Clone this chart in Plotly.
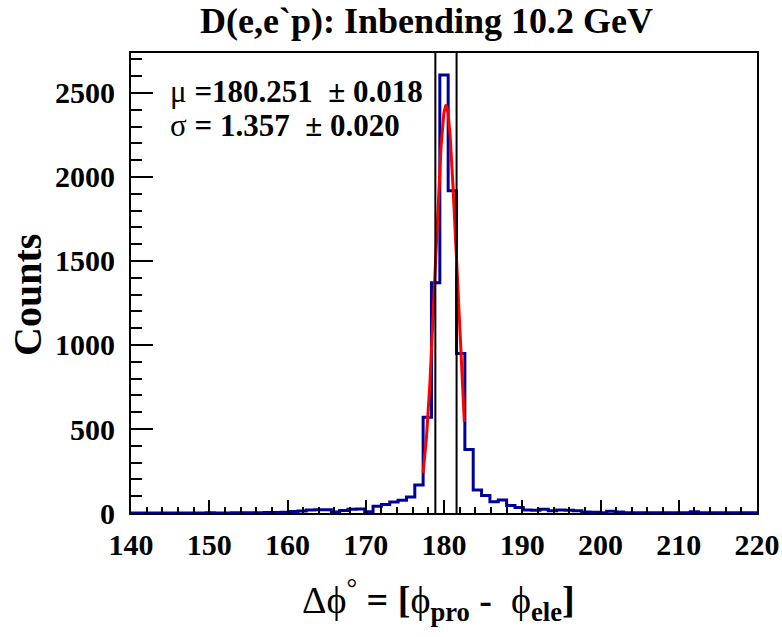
import numpy as np
import plotly.graph_objects as go

# ---------------- data ----------------
x_min, x_max = 140.0, 220.0
n_bins = 75
counts = [0, 0, 0, 0, 0, 0, 0, 0, 0, 1, 0, 0, 1,
          2, 1, 2, 3, 3, 4, 9, 12, 18, 20, 19, 6,
          15, 22, 24, 8, 40, 50, 66, 76, 95, 166,
          570, 1371, 2607, 1918, 950, 378, 137, 104, 67, 77,
          45, 33, 18, 17, 22, 14, 18, 16, 14, 6,
          4, 2, 10, 6, 2, 2, 2, 2, 1, 1,
          2, 2, 8, 2, 1, 1, 1, 1, 1, 1]
assert len(counts) == n_bins

fit_mu, fit_mu_err = 180.251, 0.018
fit_sigma, fit_sigma_err = 1.357, 0.020
fit_amp = 2425.0
fit_lo, fit_hi = 177.33, 182.6

x_ticks = [140, 150, 160, 170, 180, 190, 200, 210, 220]
y_ticks = [0, 500, 1000, 1500, 2000, 2500]
y_top = 2738

title_text = "D(e,e`p): Inbending 10.2 GeV"
ytitle_text = "Counts"

# ---------------- geometry helpers ----------------
L, R, T, B = 131, 757, 53, 513
W, H = 782, 637


def px(xp):
    return (xp - L) / (R - L)


def py(yp):
    return (B - yp) / (B - T)


edges = np.linspace(x_min, x_max, n_bins + 1)
step_y = list(counts) + [counts[-1]]

fit_x = np.linspace(fit_lo, fit_hi, 200)
fit_y = fit_amp * np.exp(-0.5 * ((fit_x - fit_mu) / fit_sigma) ** 2)

FONT = "Liberation Serif"
PHI = "\u03d5"

fig = go.Figure()
fig.add_trace(go.Scatter(x=edges, y=step_y, mode="lines", line_shape="hv",
                         line=dict(color="#00009c", width=3), showlegend=False,
                         hoverinfo="skip"))
fig.add_trace(go.Scatter(x=fit_x, y=fit_y, mode="lines",
                         line=dict(color="#ff0000", width=3), showlegend=False,
                         hoverinfo="skip"))

for xv in (fit_mu - fit_sigma, fit_mu + fit_sigma):
    fig.add_shape(type="line", x0=xv, x1=xv, y0=0, y1=1, xref="x", yref="y domain",
                  line=dict(color="black", width=2))

fig.update_layout(
    width=W, height=H,
    margin=dict(l=L, r=W - R, t=T, b=H - B, autoexpand=False),
    plot_bgcolor="white", paper_bgcolor="white",
    showlegend=False,
    font=dict(family=FONT, color="black"),
)

fig.update_xaxes(range=[x_min, x_max], tickvals=x_ticks, ticks="inside", ticklen=13,
                 tickwidth=1.5, tickcolor="black", automargin=False,
                 minor=dict(dtick=2, ticks="inside", ticklen=6, tickwidth=1.5, tickcolor="black"),
                 showline=True, linecolor="black", linewidth=2, mirror=True,
                 showgrid=False, zeroline=False,
                 tickfont=dict(family=FONT, size=30, weight="bold", color="black"),
                 ticklabelstandoff=4)
fig.update_yaxes(range=[0, y_top], tickvals=y_ticks, ticks="inside", ticklen=22,
                 tickwidth=1.5, tickcolor="black", automargin=False,
                 minor=dict(dtick=100, ticks="inside", ticklen=11, tickwidth=1.5, tickcolor="black"),
                 showline=True, linecolor="black", linewidth=2, mirror=True,
                 showgrid=False, zeroline=False,
                 tickfont=dict(family=FONT, size=30, weight="bold", color="black"),
                 ticklabelstandoff=8)

ann = []
ann.append(dict(text=title_text, x=px(426), y=py(21), xref="paper", yref="paper",
                xanchor="center", yanchor="middle", showarrow=False,
                font=dict(family=FONT, size=36, weight="bold", color="black")))
ann.append(dict(text=ytitle_text, x=px(27), y=py(295), xref="paper", yref="paper",
                xanchor="center", yanchor="middle", textangle=-90, showarrow=False,
                font=dict(family=FONT, size=40, weight="bold", color="black")))
ann.append(dict(text=f"Δ{PHI}<sup>°</sup> <b>= [</b>{PHI}<sub><b>pro</b></sub> <b>-</b>\u00a0 {PHI}<sub><b>ele</b></sub><b>]</b>",
                x=px(438), y=py(600), xref="paper", yref="paper",
                xanchor="center", yanchor="middle", showarrow=False,
                font=dict(family=FONT, size=38, color="black")))
ann.append(dict(text=f"μ <b>={fit_mu:.3f}\u00a0 ± {fit_mu_err:.3f}</b>",
                x=px(168), y=py(92), xref="paper", yref="paper",
                xanchor="left", yanchor="middle", showarrow=False,
                font=dict(family=FONT, size=31, color="black")))
ann.append(dict(text=f"σ <b>= {fit_sigma:.3f}\u00a0 ± {fit_sigma_err:.3f}</b>",
                x=px(168), y=py(125), xref="paper", yref="paper",
                xanchor="left", yanchor="middle", showarrow=False,
                font=dict(family=FONT, size=31, color="black")))
fig.update_layout(annotations=ann)

fig.write_html("out.html")
